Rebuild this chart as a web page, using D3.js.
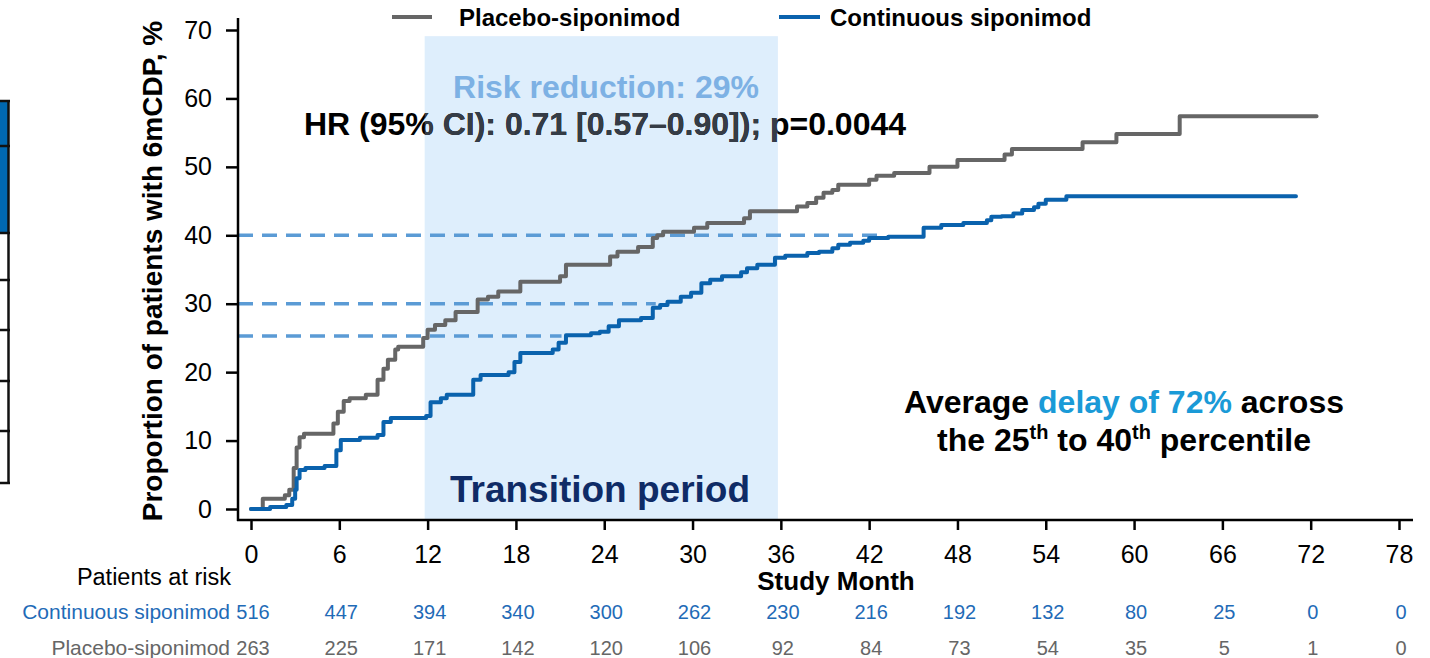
<!DOCTYPE html>
<html>
<head>
<meta charset="utf-8">
<script src="https://cdn.jsdelivr.net/npm/d3@7"></script>
<style>
  body { margin: 0; background: #fff; }
  svg { display: block; }
  text { font-family: "Liberation Sans", Arial, Helvetica, sans-serif; }
</style>
</head>
<body>
<svg id="chart" width="1430" height="658"></svg>
<script>
// ---------------- DATA ----------------
const monthTicks = [0, 6, 12, 18, 24, 30, 36, 42, 48, 54, 60, 66, 72, 78];
const yTicks = [0, 10, 20, 30, 40, 50, 60, 70];

const seriesNames = ["Placebo-siponimod", "Continuous siponimod"];

// Kaplan-Meier style step points: [month, cumulative % with 6mCDP]
const placeboSteps = [
  [0, 0], [0.8, 1.5], [2.3, 2.0], [2.6, 2.8], [2.9, 6], [3.1, 9], [3.3, 10.5], [3.6, 11],
  [5.6, 12.5], [5.9, 14.2], [6.3, 15.8], [6.7, 16.2], [7.8, 16.7], [8.6, 18.9], [9.0, 20.5],
  [9.3, 21.8], [9.8, 23.3], [10.0, 23.7], [11.7, 25], [12.0, 26.2], [12.5, 26.9], [13.2, 27.6],
  [13.9, 28.8], [15.4, 30.6], [16.1, 31], [16.8, 31.8], [18.3, 33.2], [21.0, 34], [21.4, 35.7],
  [24.4, 36.9], [24.9, 37.6], [26.3, 38.3], [27.3, 39.6], [27.6, 40], [28.0, 40.5], [30.1, 41.1],
  [31.0, 41.8], [33.5, 42.5], [33.9, 43.5], [37.1, 44.2], [37.8, 44.7], [38.4, 45.5], [38.9, 46.2],
  [39.5, 46.6], [39.9, 47.4], [42.0, 48.1], [42.5, 48.7], [43.7, 49.1], [46.1, 50], [48.0, 51],
  [51.2, 51.8], [51.7, 52.6], [56.5, 53.6], [58.8, 54.8], [63.1, 57.4], [72.4, 57.4]
];
const continuousSteps = [
  [0, 0], [1.3, 0.3], [2.4, 0.6], [2.8, 1.5], [3.0, 2.8], [3.1, 4.5], [3.3, 5.7], [3.7, 6],
  [5.0, 6.3], [5.8, 8.6], [6.1, 10.1], [7.4, 10.4], [8.6, 10.8], [9.0, 12.7], [9.5, 13.3],
  [11.9, 13.6], [12.2, 15.6], [12.9, 16.2], [13.3, 16.7], [15.1, 18.9], [15.6, 19.6], [17.5, 20],
  [17.9, 21.5], [18.3, 22.8], [20.5, 23.3], [20.9, 24.3], [21.4, 25.4], [23.1, 25.7], [23.7, 25.9],
  [24.3, 26.7], [25.0, 27.6], [26.5, 27.9], [27.3, 29.4], [27.8, 29.8], [28.3, 30.3], [29.2, 31],
  [29.9, 31.6], [30.6, 33], [31.2, 33.5], [32.0, 34], [33.3, 34.6], [33.7, 35.2], [34.4, 35.7],
  [35.6, 36.7], [36.3, 37], [37.8, 37.4], [38.6, 37.6], [39.5, 38.1], [39.9, 38.6], [40.7, 38.9],
  [41.6, 39.2], [42.0, 39.6], [43.3, 39.8], [45.7, 41.1], [46.9, 41.5], [48.4, 41.8], [50.0, 42.2],
  [50.3, 42.7], [51.0, 42.8], [51.8, 43.2], [52.4, 43.7], [53.2, 44.1], [53.5, 44.6], [54.0, 45.2],
  [55.4, 45.7], [71.0, 45.7]
];

// percentile reference lines: level (%) and month where the continuous curve reaches it
const percentileLevels = [25.3, 30, 40];
const percentileEndMonths = [21.1, 27.5, 42.9];

const transitionPeriod = [11.8, 35.8];
const transitionTop = 69.1;

const riskContinuous = [516, 447, 394, 340, 300, 262, 230, 216, 192, 132, 80, 25, 0, 0];
const riskPlacebo = [263, 225, 171, 142, 120, 106, 92, 84, 73, 54, 35, 5, 1, 0];

const hrText = "HR (95% CI): 0.71 [0.57\u20130.90]); p=0.0044";
const riskReductionText = "Risk reduction: 29%";

// ---------------- STYLE / LAYOUT ----------------
const C = {
  gray: "#666666",
  blue: "#0a62ad",
  blueText: "#1f6bb7",
  shade: "#deeefc",
  dash: "#5b9bd5",
  rr: "#7db1e4",
  delay: "#1a9ad7",
  navy: "#0f2b66"
};
const axisX0 = 238, axisYpos = 520, axisXend = 1413, axisTop = 18;

const svg = d3.select("#chart");
const x = d3.scaleLinear().domain([0, 78]).range([251, 1399]);
const y = d3.scaleLinear().domain([0, 70]).range([509, 30]);

// ---- fragment of a neighbouring table at the left edge ----
const leftRows = [101, 146, 233, 280, 330, 381, 431, 483];
svg.append("rect").attr("x", 0).attr("y", 101).attr("width", 8).attr("height", 132).attr("fill", "#0068b1");
leftRows.forEach(r => svg.append("line").attr("x1", 0).attr("x2", 10).attr("y1", r).attr("y2", r)
  .attr("stroke", "#111").attr("stroke-width", 2.5));
svg.append("line").attr("x1", 8.5).attr("x2", 8.5).attr("y1", 100).attr("y2", 484)
  .attr("stroke", "#111").attr("stroke-width", 2.5);

// ---- transition shade ----
const shadeX = x(transitionPeriod[0]), shadeW = x(transitionPeriod[1]) - x(transitionPeriod[0]);
const shadeY = y(transitionTop), shadeH = axisYpos - y(transitionTop);
svg.append("rect").attr("x", shadeX).attr("y", shadeY).attr("width", shadeW).attr("height", shadeH)
  .attr("fill", C.shade);

svg.append("defs").append("clipPath").attr("id", "shadeClip")
  .append("rect").attr("x", shadeX).attr("y", shadeY).attr("width", shadeW).attr("height", shadeH);

// HR text (appears dimmed where it crosses the shade)
svg.append("text").attr("x", 605).attr("y", 135).attr("text-anchor", "middle")
  .style("font-size", "32px").style("font-weight", "bold").attr("fill", "#000").text(hrText);
svg.append("text").attr("x", 605).attr("y", 135).attr("text-anchor", "middle")
  .attr("clip-path", "url(#shadeClip)")
  .style("font-size", "32px").style("font-weight", "bold").attr("fill", "#353c46").text(hrText);

svg.append("text").attr("x", 606).attr("y", 98).attr("text-anchor", "middle")
  .style("font-size", "32px").style("font-weight", "bold").attr("fill", C.rr).text(riskReductionText);

// ---- dashed percentile lines ----
svg.append("g").selectAll("line").data(percentileLevels).join("line")
  .attr("x1", axisX0).attr("x2", (d, i) => x(percentileEndMonths[i]))
  .attr("y1", d => y(d)).attr("y2", d => y(d))
  .attr("stroke", C.dash).attr("stroke-width", 3.5).attr("stroke-dasharray", "15,9");

// ---- curves ----
const line = d3.line().x(d => x(d[0])).y(d => y(d[1])).curve(d3.curveStepAfter);
svg.append("path").datum(placeboSteps).attr("d", line).attr("fill", "none")
  .attr("stroke", C.gray).attr("stroke-width", 4).attr("stroke-linejoin", "round").attr("stroke-linecap", "round");
svg.append("path").datum(continuousSteps).attr("d", line).attr("fill", "none")
  .attr("stroke", C.blue).attr("stroke-width", 4).attr("stroke-linejoin", "round").attr("stroke-linecap", "round");

// ---- axes ----
const yAxis = svg.append("g").attr("transform", `translate(${axisX0},0)`)
  .call(d3.axisLeft(y).tickValues(yTicks).tickSize(12).tickPadding(14));
yAxis.select(".domain").remove();
yAxis.selectAll(".tick line").attr("stroke", "#000").attr("stroke-width", 2.5);
yAxis.selectAll(".tick text").style("font-size", "25px").attr("fill", "#000")
  .style("font-family", "'Liberation Sans', Arial, sans-serif");
svg.append("line").attr("x1", axisX0).attr("x2", axisX0).attr("y1", axisTop).attr("y2", axisYpos + 1)
  .attr("stroke", "#000").attr("stroke-width", 2.5);

const xAxis = svg.append("g").attr("transform", `translate(0,${axisYpos})`)
  .call(d3.axisBottom(x).tickValues(monthTicks).tickSize(10).tickPadding(15));
xAxis.select(".domain").remove();
xAxis.selectAll(".tick line").attr("stroke", "#000").attr("stroke-width", 2.5);
xAxis.selectAll(".tick text").style("font-size", "25px").attr("fill", "#000")
  .style("font-family", "'Liberation Sans', Arial, sans-serif");
svg.append("line").attr("x1", axisX0 - 1).attr("x2", axisXend).attr("y1", axisYpos).attr("y2", axisYpos)
  .attr("stroke", "#000").attr("stroke-width", 2.5);

// axis titles
svg.append("text").attr("transform", "translate(162,271) rotate(-90)").attr("text-anchor", "middle")
  .style("font-size", "28px").style("font-weight", "bold").text("Proportion of patients with 6mCDP, %");
svg.append("text").attr("x", 836).attr("y", 590).attr("text-anchor", "middle")
  .style("font-size", "26px").style("font-weight", "bold").text("Study Month");

// ---- legend ----
const legendItems = [
  { name: seriesNames[0], color: C.gray, x1: 392, x2: 432, tx: 459 },
  { name: seriesNames[1], color: C.blue, x1: 779, x2: 820, tx: 830 }
];
const lg = svg.append("g");
legendItems.forEach(it => {
  lg.append("line").attr("x1", it.x1).attr("x2", it.x2).attr("y1", 17).attr("y2", 17)
    .attr("stroke", it.color).attr("stroke-width", 4);
  lg.append("text").attr("x", it.tx).attr("y", 26).style("font-size", "24px").style("font-weight", "bold")
    .text(it.name);
});

// ---- annotations ----
svg.append("text").attr("x", 600).attr("y", 502).attr("text-anchor", "middle")
  .style("font-size", "37px").style("font-weight", "bold").attr("fill", C.navy).text("Transition period");

const avg = svg.append("text").attr("x", 1124).attr("y", 413).attr("text-anchor", "middle")
  .style("font-size", "32px").style("font-weight", "bold").attr("fill", "#000");
avg.append("tspan").text("Average ");
avg.append("tspan").attr("fill", C.delay).text("delay of 72%");
avg.append("tspan").text(" across");

const pct = svg.append("text").attr("x", 1124).attr("y", 451).attr("text-anchor", "middle")
  .style("font-size", "32px").style("font-weight", "bold").attr("fill", "#000");
pct.append("tspan").text("the 25");
pct.append("tspan").attr("dy", -12).style("font-size", "20px").text("th");
pct.append("tspan").attr("dy", 12).text(" to 40");
pct.append("tspan").attr("dy", -12).style("font-size", "20px").text("th");
pct.append("tspan").attr("dy", 12).text(" percentile");

// ---- risk table ----
svg.append("text").attr("x", 231).attr("y", 585).attr("text-anchor", "end")
  .style("font-size", "23.5px").attr("fill", "#000").text("Patients at risk");
svg.append("text").attr("x", 230).attr("y", 619).attr("text-anchor", "end")
  .style("font-size", "21px").attr("fill", C.blueText).text(seriesNames[1]);
svg.append("text").attr("x", 230).attr("y", 655).attr("text-anchor", "end")
  .style("font-size", "21px").attr("fill", C.gray).text(seriesNames[0]);

svg.append("g").selectAll("text").data(riskContinuous).join("text")
  .attr("x", (d, i) => x(monthTicks[i]) + 2).attr("y", 619).attr("text-anchor", "middle")
  .style("font-size", "20px").attr("fill", C.blueText).text(d => d);
svg.append("g").selectAll("text").data(riskPlacebo).join("text")
  .attr("x", (d, i) => x(monthTicks[i]) + 2).attr("y", 655).attr("text-anchor", "middle")
  .style("font-size", "20px").attr("fill", C.gray).text(d => d);
</script>
</body>
</html>
